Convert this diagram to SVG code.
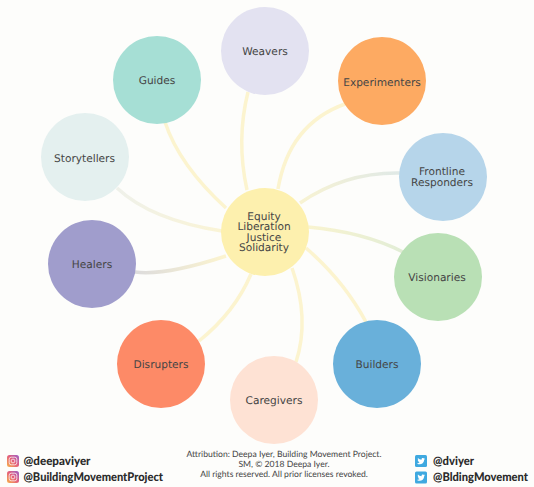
<svg xmlns="http://www.w3.org/2000/svg" width="534" height="487" viewBox="0 0 534 487">
<style>
.n{font-family:"DejaVu Sans",sans-serif;font-size:10.6px;fill:#454545;text-anchor:middle;text-rendering:geometricPrecision}
.c{fill:none;stroke-width:3.500;stroke-linecap:butt}
.y{stroke:#fcf4cf}
.h{font-family:"Lato",sans-serif;font-weight:900;font-size:12px;fill:#2b2b2b;text-rendering:geometricPrecision}
.a{font-family:"Lato",sans-serif;font-size:8.6px;fill:#444;text-anchor:middle;text-rendering:geometricPrecision}
</style>
<defs>
<linearGradient id="ig" x1="0" y1="1" x2="1" y2="0"><stop offset="0" stop-color="#f7b34a"/><stop offset=".5" stop-color="#e5607a"/><stop offset="1" stop-color="#9a5fc8"/></linearGradient>
<linearGradient id="gF" gradientUnits="userSpaceOnUse" x1="300" y1="203" x2="398" y2="173"><stop offset="0" stop-color="#f8f3d2"/><stop offset="1" stop-color="#e0e9e6"/></linearGradient>
<linearGradient id="gV" gradientUnits="userSpaceOnUse" x1="309" y1="227" x2="402" y2="251"><stop offset="0" stop-color="#f9f4d0"/><stop offset="1" stop-color="#e2edd6"/></linearGradient>
<linearGradient id="gH" gradientUnits="userSpaceOnUse" x1="225" y1="256" x2="136" y2="272"><stop offset="0" stop-color="#fcf4cf"/><stop offset="1" stop-color="#dddcdc"/></linearGradient>
<linearGradient id="gS" gradientUnits="userSpaceOnUse" x1="220" y1="231" x2="118" y2="189"><stop offset="0" stop-color="#faf4d6"/><stop offset="1" stop-color="#eff1ea"/></linearGradient>
<g id="igi"><rect width="12" height="12" rx="2.500" fill="url(#ig)"/><rect x="2.200" y="2.200" width="7.600" height="7.600" rx="2" fill="none" stroke="#fff" stroke-width=".9" opacity=".8"/><circle cx="6" cy="6" r="1.900" fill="none" stroke="#fff" stroke-width=".9" opacity=".8"/></g>
<g id="twi"><rect width="12" height="12" rx="1.500" fill="#3fa9e0"/><path d="M2.300 8.700c2.700 1.400 6.600.4 6.900-4l.8-.9-.9.2.7-.9-1 .4c-.9-1-2.600-.2-2.200 1.200C5.200 4.700 3.900 4 3 3c-.4.8-.2 1.600.5 2.100l-.7-.1c0 .8.5 1.300 1.200 1.500l-.7.1c.2.600.7.900 1.400 1-.7.500-1.500.7-2.400.6z" fill="#fff"/></g>
</defs>
<rect width="534" height="487" fill="#fdfdfb"/>
<g id="connectors">
<path class="c y" d="M247 190Q236 140 248 92"/>
<path class="c y" d="M278 189Q289 124 345 104"/>
<path class="c" stroke="url(#gF)" d="M300 203Q345 172 400 173"/>
<path class="c" stroke="url(#gV)" d="M308 227Q364 232 403 252"/>
<path class="c y" d="M306 248Q344 281 366 322"/>
<path class="c y" d="M292 268Q310 319 296 362"/>
<path class="c y" d="M251 274Q235 312 199 341"/>
<path class="c" stroke="url(#gH)" d="M226 256Q165 276 135 272"/>
<path class="c" stroke="url(#gS)" d="M222 231Q151 220 117 188"/>
<path class="c y" d="M226 208Q179 165 165 122"/>
</g>
<g id="hub"><circle cx="265" cy="232" r="44" fill="#fdf0ae"/><text class="n" x="264" y="219.500">Equity</text><text class="n" x="264" y="230">Liberation</text><text class="n" x="264" y="240.500">Justice</text><text class="n" x="264" y="251">Solidarity</text></g>
<g id="weavers"><circle cx="265" cy="51" r="44" fill="#e3e2f1"/><text class="n" x="265" y="55">Weavers</text></g>
<g id="experimenters"><circle cx="382" cy="81" r="44" fill="#fdaa62"/><text class="n" x="382" y="86">Experimenters</text></g>
<g id="frontline"><circle cx="443" cy="177" r="44" fill="#b6d5ea"/><text class="n" x="442" y="175">Frontline</text><text class="n" x="442" y="186">Responders</text></g>
<g id="visionaries"><circle cx="438" cy="277" r="44" fill="#b9e0b5"/><text class="n" x="437" y="281">Visionaries</text></g>
<g id="builders"><circle cx="377" cy="364" r="44" fill="#69b0da"/><text class="n" x="377" y="368">Builders</text></g>
<g id="caregivers"><circle cx="274" cy="400" r="44" fill="#fee2d4"/><text class="n" x="274" y="404">Caregivers</text></g>
<g id="disrupters"><circle cx="161" cy="364" r="44" fill="#fd8a67"/><text class="n" x="161" y="368">Disrupters</text></g>
<g id="healers"><circle cx="92" cy="264" r="44" fill="#a09dcc"/><text class="n" x="92" y="268">Healers</text></g>
<g id="storytellers"><circle cx="85" cy="157" r="44" fill="#e4f0ef"/><text class="n" x="84.500" y="162">Storytellers</text></g>
<g id="guides"><circle cx="157" cy="80" r="44" fill="#a6dfd5"/><text class="n" x="157" y="84">Guides</text></g>
<use href="#igi" x="7" y="455"/>
<use href="#igi" x="7" y="471"/>
<text class="h" x="23.500" y="464.500" textLength="67" lengthAdjust="spacingAndGlyphs">@deepaviyer</text>
<text class="h" x="23.500" y="481" textLength="139.500" lengthAdjust="spacingAndGlyphs">@BuildingMovementProject</text>
<text class="a" x="284" y="457">Attribution: Deepa Iyer, Building Movement Project.</text>
<text class="a" x="284" y="467">SM, © 2018 Deepa Iyer.</text>
<text class="a" x="284" y="477">All rights reserved. All prior licenses revoked.</text>
<use href="#twi" x="415" y="455"/>
<use href="#twi" x="415" y="471.500"/>
<text class="h" x="433" y="464.500" textLength="41" lengthAdjust="spacingAndGlyphs">@dviyer</text>
<text class="h" x="433" y="481" textLength="95" lengthAdjust="spacingAndGlyphs">@BldingMovement</text>
</svg>
